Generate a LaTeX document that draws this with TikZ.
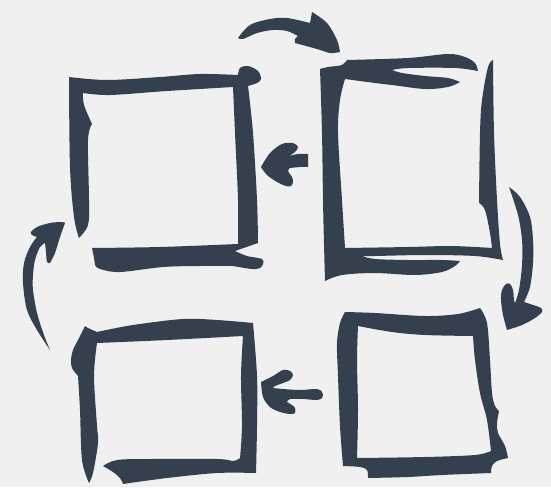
\documentclass[tikz,border=0pt]{standalone}
\usetikzlibrary{positioning}

\definecolor{paper}{RGB}{240,240,240}
\definecolor{ink}{RGB}{52,64,77}

\begin{document}
\begin{tikzpicture}[
  x=1pt, y=-1pt,
  brush/.style={fill=ink, even odd rule},
  sm/.style={smooth, tension=0.55},
]

%% ── Canvas ────────────────────────────────────────────
\fill[paper] (0,0) rectangle (551,487);

%% ── Box 1 (top left) ──────────────────────────────────
\fill[brush]
  plot[sm] coordinates {(79,238) (74,217) (70,167) (69,77)}
  -- plot[sm] coordinates {(69,77) (107,80) (160,77) (200,74) (238,75)}
  -- plot[sm] coordinates {(238,75) (240,68) (248,66) (258,71) (261,79) (257,83) (248,86)}
  -- plot[sm] coordinates {(248,86) (253,133) (257,200) (258,243)}
  -- (235,251)
  -- plot[sm] coordinates {(235,251) (247,256) (262,259) (263,264) (260,268) (252,269) (233,266)}
  -- plot[sm] coordinates {(233,266) (200,266) (163,267) (120,272) (100,269) (95,265)}
  -- plot[sm] coordinates {(95,265) (94,258) (92,248)}
  -- plot[sm] coordinates {(92,248) (160,247) (238,244)}
  -- plot[sm] coordinates {(238,244) (238,200) (235,133) (233,87)}
  -- plot[sm] coordinates {(233,87) (167,91) (110,95) (83,93)}
  -- plot[sm] coordinates {(83,93) (84,105) (92,124)}
  -- plot[sm] coordinates {(92,124) (88,140) (89,200) (88,225) (79,238)}
  -- cycle;

%% ── Box 2 (top right) ─────────────────────────────────
\fill[brush]
  plot[sm] coordinates {(320,69) (322,133) (323,200) (324,244) (325,281)}
  -- plot[sm] coordinates {(325,281) (342,275) (375,273) (415,275) (442,272) (455,266) (460,261)}
  -- plot[sm] coordinates {(460,261) (442,260) (408,260) (375,259) (362,256)}
  -- plot[sm] coordinates {(362,256) (375,256) (425,255) (475,256) (503,260)}
  -- plot[sm] coordinates {(503,260) (500,244) (497,200) (494,133) (493,60)}
  -- plot[sm] coordinates {(493,60) (488,67) (482,100) (480,133) (479,203)}
  -- plot[sm] coordinates {(479,203) (485,210) (490,233) (492,248)}
  -- plot[sm] coordinates {(492,248) (475,247) (448,246) (408,247) (345,248)}
  -- plot[sm] coordinates {(345,248) (342,200) (338,133) (340,100) (345,79)}
  -- plot[sm] coordinates {(345,79) (375,83) (392,85) (425,89) (448,87) (460,82)}
  -- plot[sm] coordinates {(460,82) (448,78) (425,76) (402,73) (392,70)}
  -- plot[sm] coordinates {(392,70) (408,68) (455,68) (478,71)}
  -- plot[sm] coordinates {(478,71) (475,63) (465,57) (448,54) (408,58) (347,60)}
  -- plot[sm] coordinates {(347,60) (342,65) (328,67) (320,69)}
  -- cycle;

%% ── Box 3 (bottom right) ──────────────────────────────
\fill[brush]
  plot[sm] coordinates {(345,312) (375,313) (425,316) (458,314) (480,308)}
  -- plot[sm] coordinates {(480,308) (487,323) (490,360) (492,393) (495,406) (499,411)}
  -- plot[sm] coordinates {(499,411) (497,423) (498,433) (505,446) (508,458)}
  -- plot[sm] coordinates {(508,458) (497,461) (492,466) (491,473)}
  -- plot[sm] coordinates {(491,473) (442,475) (408,477) (368,478)}
  -- plot[sm] coordinates {(368,478) (367,470) (360,467) (343,466)}
  -- plot[sm] coordinates {(343,466) (340,426) (338,376) (337,343) (340,323) (345,312)}
  -- cycle
  plot[sm] coordinates {(358,326) (392,332) (425,335) (473,336)}
  -- plot[sm] coordinates {(473,336) (475,360) (480,393) (487,420) (491,451)}
  -- plot[sm] coordinates {(491,451) (475,455) (425,457) (357,458)}
  -- plot[sm] coordinates {(357,458) (358,410) (357,360) (358,326)}
  -- cycle;

%% ── Box 4 (bottom left) ───────────────────────────────
\fill[brush]
  plot[sm] coordinates {(89,483) (82,460) (80,410) (78,376)}
  -- plot[sm] coordinates {(78,376) (72,368) (71,360) (73,350) (78,340) (85,326)}
  -- plot[sm] coordinates {(85,326) (88,328) (97,332)}
  -- plot[sm] coordinates {(97,332) (133,325) (183,319) (217,320) (253,323)}
  -- plot[sm] coordinates {(253,323) (257,376) (257,426) (256,473)}
  -- plot[sm] coordinates {(256,473) (217,473) (167,478) (123,484)}
  -- plot[sm] coordinates {(123,484) (120,478) (113,472) (103,466)}
  -- plot[sm] coordinates {(103,466) (117,460) (150,459) (217,459) (233,461) (240,458)}
  -- plot[sm] coordinates {(240,458) (242,426) (241,376) (243,336)}
  -- plot[sm] coordinates {(243,336) (167,340) (97,343)}
  -- plot[sm] coordinates {(97,343) (94,376) (97,426) (98,443) (93,473) (89,483)}
  -- cycle;

%% ── Arrows ────────────────────────────────────────────
% top: box 1 -> box 2
\fill[brush]
  plot[sm] coordinates {(238,38) (250,25) (270,19) (287,18) (310,23)}
  -- (312,12)
  -- plot[sm] coordinates {(312,12) (327,23) (337,40) (340,52)}
  -- plot[sm] coordinates {(340,52) (330,53) (317,49) (295,43)}
  -- plot[sm] coordinates {(295,43) (295,39) (298,36)}
  -- plot[sm] coordinates {(298,36) (287,31) (273,30) (257,33) (243,39) (238,38)}
  -- cycle;

% right: box 2 -> box 3
\fill[brush]
  plot[sm] coordinates {(509,187) (520,197) (530,217) (533,240) (533,263) (530,287) (524,302)}
  -- plot[sm] coordinates {(524,302) (533,305) (541,308) (542,312) (535,318) (522,325) (507,330)}
  -- plot[sm] coordinates {(507,330) (503,315) (501,300) (502,290) (506,284) (510,284) (513,290) (514,300) (515,303)}
  -- plot[sm] coordinates {(515,303) (519,290) (522,265) (522,240) (518,215) (509,187)}
  -- cycle;

% middle top: box 2 -> box 1
\fill[brush]
  plot[sm] coordinates {(261,167) (270,153) (282,144) (293,143) (298,147) (295,152) (289,156)}
  -- plot[sm] coordinates {(289,156) (298,154) (308,154)}
  -- (308,167)
  -- plot[sm] coordinates {(308,167) (300,167) (290,168)}
  -- plot[sm] coordinates {(290,168) (288,171) (292,177) (293,182) (291,186) (286,186) (277,182) (267,175) (261,167)}
  -- cycle;

% middle bottom: box 3 -> box 4
\fill[brush]
  plot[sm] coordinates {(261,382) (273,376) (283,370) (290,371) (293,375) (290,380) (283,383) (275,386) (273,388)}
  -- plot[sm] coordinates {(273,388) (283,389) (300,390) (317,389) (322,392) (323,395) (322,398) (317,400) (303,399) (290,399) (287,402)}
  -- plot[sm] coordinates {(287,402) (292,405) (295,408) (295,413) (290,414) (280,412) (270,407) (263,397) (261,382)}
  -- cycle;

% left: box 4 -> box 1
\fill[brush]
  plot[sm] coordinates {(50,350) (37,330) (27,310) (23,283) (24,263) (30,247) (37,237)}
  -- plot[sm] coordinates {(37,237) (32,235) (31,232) (37,227) (50,223) (62,222) (65,223)}
  -- plot[sm] coordinates {(65,223) (60,237) (55,253) (50,263)}
  -- plot[sm] coordinates {(50,263) (47,262) (46,252) (45,243)}
  -- plot[sm] coordinates {(45,243) (40,247) (35,260) (33,275) (33,290) (37,313) (44,335) (50,350)}
  -- cycle;

\end{tikzpicture}
\end{document}
